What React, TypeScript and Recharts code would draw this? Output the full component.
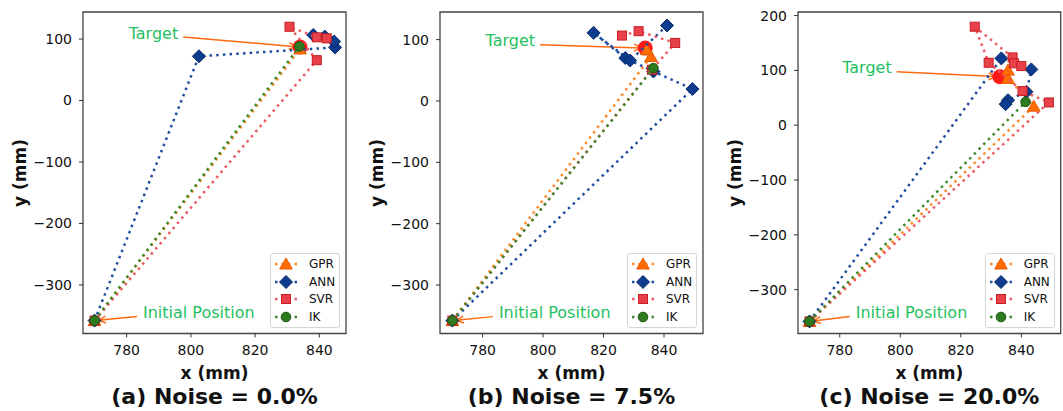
import React from 'react';
import { ScatterChart, Scatter, XAxis, YAxis, ReferenceArea, ReferenceLine, Legend } from 'recharts';

type Pt = { x: number; y: number };

const start: Pt = { x: 770, y: -358 };

const xTicks = [780, 800, 820, 840];
const yTicksAB = [-300, -200, -100, 0, 100];
const yTicksC = [-300, -200, -100, 0, 100, 200];

// (a) Noise = 0.0%
const targetA: Pt[] = [{ x: 834, y: 87 }];
const gprA: Pt[] = [start, { x: 834, y: 84 }];
const annA: Pt[] = [start, { x: 802.5, y: 72 }, { x: 844.9, y: 86.4 }, { x: 844.6, y: 96 }, { x: 841.7, y: 104 }, { x: 838.1, y: 106.6 }];
const svrA: Pt[] = [start, { x: 839.2, y: 65.6 }, { x: 830.7, y: 120 }, { x: 839.2, y: 102.8 }, { x: 842.3, y: 101.1 }];
const ikA: Pt[] = [start, { x: 833.8, y: 88 }];

// (b) Noise = 7.5%
const targetB: Pt[] = [{ x: 833.8, y: 86.3 }];
const gprB: Pt[] = [start, { x: 835.7, y: 72.5 }, { x: 834.3, y: 83.5 }];
const annB: Pt[] = [start, { x: 849.4, y: 19.4 }, { x: 836.5, y: 48 }, { x: 827.2, y: 70 }, { x: 816.7, y: 111 }, { x: 828.8, y: 66 }, { x: 841, y: 123 }];
const svrB: Pt[] = [start, { x: 836, y: 51 }, { x: 843.7, y: 94.6 }, { x: 831.6, y: 113.7 }, { x: 826.1, y: 106.6 }];
const ikB: Pt[] = [start, { x: 836.5, y: 53.5 }];

// (c) Noise = 20.0%
const targetC: Pt[] = [{ x: 832.9, y: 88.3 }];
const gprC: Pt[] = [start, { x: 844.1, y: 34.7 }, { x: 835.6, y: 85.4 }, { x: 835.6, y: 100.5 }];
const annC: Pt[] = [start, { x: 833.4, y: 121.9 }, { x: 843.3, y: 101.8 }, { x: 841.7, y: 60.9 }, { x: 835.6, y: 45.7 }, { x: 834.8, y: 38.4 }];
const svrC: Pt[] = [start, { x: 849.1, y: 41.5 }, { x: 840.4, y: 62.2 }, { x: 829.2, y: 113.9 }, { x: 824.6, y: 179.7 }, { x: 837.1, y: 123.7 }, { x: 837.6, y: 112.8 }, { x: 840, y: 107.9 }];
const ikC: Pt[] = [start, { x: 841.4, y: 42.6 }];

const FONT = '"DejaVu Sans", sans-serif';
const PLOT_TOP = 12;
const PLOT_BOTTOM = 333.5;
const AXIS_W = 75;
const H = 411;
const GREEN_TEXT = '#1fbf5f';
const ARROW = '#ff6a10';

const styles: Record<string, { fill: string; edge: string; line: string }> = {
  gpr: { fill: '#ff6d00', edge: '#e85a00', line: '#ff8a2a' },
  ann: { fill: '#0d3b8e', edge: '#082a6a', line: '#1f4f9e' },
  svr: { fill: '#e8414a', edge: '#c81d22', line: '#ec5a62' },
  ik: { fill: '#2e7a1e', edge: '#1d5a10', line: '#3f8a2c' },
  target: { fill: '#ff1a1a', edge: '#ff1a1a', line: 'none' },
};

function Marker({ kind, cx, cy }: { kind: string; cx: number; cy: number }) {
  const s = styles[kind];
  if (cx == null || cy == null) return null;
  if (kind === 'gpr')
    return <polygon points={`${cx},${cy - 6} ${cx - 6.3},${cy + 5} ${cx + 6.3},${cy + 5}`} fill={s.fill} stroke={s.edge} strokeWidth={1} />;
  if (kind === 'ann')
    return <polygon points={`${cx},${cy - 6.5} ${cx + 6.5},${cy} ${cx},${cy + 6.5} ${cx - 6.5},${cy}`} fill={s.fill} stroke={s.edge} strokeWidth={1} />;
  if (kind === 'svr')
    return <rect x={cx - 4.5} y={cy - 4.5} width={9} height={9} fill={s.fill} stroke={s.edge} strokeWidth={1} />;
  if (kind === 'ik') return <circle cx={cx} cy={cy} r={4.8} fill={s.fill} stroke={s.edge} strokeWidth={1} />;
  return <circle cx={cx} cy={cy} r={7.5} fill={s.fill} />;
}

const fmt = (v: number) => (v < 0 ? `\u2212${Math.abs(v)}` : `${v}`);

function Arrow(props: any, label: string, side: 'left' | 'right') {
  const { x1, y1, x2, y2 } = props;
  const dx = x2 - x1;
  const dy = y2 - y1;
  const len = Math.sqrt(dx * dx + dy * dy);
  const ux = dx / len;
  const uy = dy / len;
  const hx = x2 - ux * 4;
  const hy = y2 - uy * 4;
  const a = 0.45;
  const hl = 8;
  const p1x = hx - hl * (ux * Math.cos(a) - uy * Math.sin(a));
  const p1y = hy - hl * (uy * Math.cos(a) + ux * Math.sin(a));
  const p2x = hx - hl * (ux * Math.cos(a) + uy * Math.sin(a));
  const p2y = hy - hl * (uy * Math.cos(a) - ux * Math.sin(a));
  return (
    <g>
      <line x1={x1} y1={y1} x2={hx} y2={hy} stroke={ARROW} strokeWidth={1.5} />
      <polyline points={`${p1x},${p1y} ${hx},${hy} ${p2x},${p2y}`} fill="none" stroke={ARROW} strokeWidth={1.5} />
      <text
        x={side === 'left' ? x1 - 5 : x1 + 6}
        y={y1 - 4}
        textAnchor={side === 'left' ? 'end' : 'start'}
        dominantBaseline="central"
        fontSize={16}
        fontFamily={FONT}
        fill={GREEN_TEXT}
      >
        {label}
      </text>
    </g>
  );
}

function LegendBox() {
  const rows = [
    { key: 'gpr', name: 'GPR' },
    { key: 'ann', name: 'ANN' },
    { key: 'svr', name: 'SVR' },
    { key: 'ik', name: 'IK' },
  ];
  return (
    <div
      style={{
        width: 70,
        height: 75,
        boxSizing: 'border-box',
        border: '1px solid #d6d6d6',
        borderRadius: 3,
        background: 'rgba(255,255,255,0.85)',
        position: 'relative',
        fontFamily: FONT,
        fontSize: 12,
      }}
    >
      {rows.map((r, i) => (
        <div key={r.key} style={{ position: 'absolute', left: 0, top: 10 + i * 17.6 - 8, height: 16, width: 70 }}>
          <svg width={34} height={16} style={{ position: 'absolute', left: 0, top: 0 }}>
            <line x1={4} y1={8} x2={30} y2={8} stroke={styles[r.key].line} strokeWidth={2.5} strokeDasharray="2.5 4" />
            <Marker kind={r.key} cx={15} cy={8} />
          </svg>
          <span style={{ position: 'absolute', left: 38, top: 0, lineHeight: '16px', color: '#111' }}>{r.name}</span>
        </div>
      ))}
    </div>
  );
}

type Note = { label: string; from: Pt; to: Pt; side: 'left' | 'right' };

type Panel = {
  title: string;
  left: number;
  right: number;
  xDomain: [number, number];
  yDomain: [number, number];
  yTicks: number[];
  target: Pt[];
  gpr: Pt[];
  ann: Pt[];
  svr: Pt[];
  ik: Pt[];
  notes: Note[];
};

const panels: Panel[] = [
  {
    title: '(a) Noise = 0.0%',
    left: 83,
    right: 346,
    xDomain: [766.4, 848.3],
    yDomain: [-379, 144],
    yTicks: yTicksAB,
    target: targetA,
    gpr: gprA,
    ann: annA,
    svr: svrA,
    ik: ikA,
    notes: [
      { label: 'Target', from: { x: 797.6, y: 103.3 }, to: targetA[0], side: 'left' },
      { label: 'Initial Position', from: { x: 783.2, y: -351.5 }, to: start, side: 'right' },
    ],
  },
  {
    title: '(b) Noise = 7.5%',
    left: 440,
    right: 703,
    xDomain: [765.9, 852.9],
    yDomain: [-379, 145],
    yTicks: yTicksAB,
    target: targetB,
    gpr: gprB,
    ann: annB,
    svr: svrB,
    ik: ikB,
    notes: [
      { label: 'Target', from: { x: 799, y: 91.8 }, to: targetB[0], side: 'left' },
      { label: 'Initial Position', from: { x: 783.4, y: -351.5 }, to: start, side: 'right' },
    ],
  },
  {
    title: '(c) Noise = 20.0%',
    left: 798,
    right: 1060.7,
    xDomain: [766.2, 853],
    yDomain: [-380, 206.5],
    yTicks: yTicksC,
    target: targetC,
    gpr: gprC,
    ann: annC,
    svr: svrC,
    ik: ikC,
    notes: [
      { label: 'Target', from: { x: 798.8, y: 97.4 }, to: targetC[0], side: 'left' },
      { label: 'Initial Position', from: { x: 783.3, y: -349 }, to: start, side: 'right' },
    ],
  },
];

function dotted(color: string) {
  return { stroke: color, strokeWidth: 2.5, strokeDasharray: '2.5 4.2', fill: 'none' };
}

function PanelChart({ p }: { p: Panel }) {
  const plotW = p.right - p.left;
  const chartW = AXIS_W + plotW + 4;
  const chartLeft = p.left - AXIS_W;
  const center = (p.left + p.right) / 2;
  const series: { key: string; data: Pt[] }[] = [
    { key: 'gpr', data: p.gpr },
    { key: 'ann', data: p.ann },
    { key: 'svr', data: p.svr },
    { key: 'ik', data: p.ik },
  ];
  return (
    <>
      <div style={{ position: 'absolute', left: chartLeft, top: 0 }}>
        <ScatterChart width={chartW} height={H} margin={{ top: PLOT_TOP, right: 4, left: 0, bottom: 0 }}>
          <XAxis
            type="number"
            dataKey="x"
            domain={p.xDomain}
            ticks={xTicks}
            allowDataOverflow
            height={H - PLOT_BOTTOM}
            axisLine={false}
            tickSize={4}
            tickMargin={8}
            tickLine={{ stroke: '#333' }}
            tick={{ fontSize: 14, fill: '#111', fontFamily: FONT }}
          />
          <YAxis
            type="number"
            dataKey="y"
            domain={p.yDomain}
            ticks={p.yTicks}
            allowDataOverflow
            width={AXIS_W}
            axisLine={false}
            tickSize={4}
            tickMargin={7}
            tickFormatter={fmt}
            tickLine={{ stroke: '#333' }}
            tick={{ fontSize: 14, fill: '#111', fontFamily: FONT }}
          />
          <ReferenceArea
            x1={p.xDomain[0]}
            x2={p.xDomain[1]}
            y1={p.yDomain[0]}
            y2={p.yDomain[1]}
            fill="none"
            stroke="#444"
            strokeWidth={1.3}
            ifOverflow="visible"
          />
          <Scatter data={p.target} isAnimationActive={false} shape={(s: any) => <Marker kind="target" cx={s.cx} cy={s.cy} />} />
          {series.map((s) => (
            <Scatter
              key={s.key}
              data={s.data}
              isAnimationActive={false}
              line={dotted(styles[s.key].line)}
              lineType="joint"
              shape={(m: any) => <Marker kind={s.key} cx={m.cx} cy={m.cy} />}
            />
          ))}
          {p.notes.map((n) => (
            <ReferenceLine
              key={n.label}
              segment={[n.from, n.to]}
              ifOverflow="visible"
              shape={(props: any) => Arrow(props, n.label, n.side)}
            />
          ))}
          <Legend
            layout="vertical"
            align="center"
            verticalAlign="middle"
            wrapperStyle={{ left: p.right - 6 - 70 - chartLeft, top: 253.3, width: 70, height: 75 }}
            content={() => <LegendBox />}
          />
        </ScatterChart>
      </div>
      <div
        style={{
          position: 'absolute',
          left: p.left - 63 - 60,
          top: (PLOT_TOP + PLOT_BOTTOM) / 2 - 11,
          width: 120,
          height: 22,
          lineHeight: '22px',
          textAlign: 'center',
          transform: 'rotate(-90deg)',
          fontWeight: 'bold',
          fontSize: 17,
        }}
      >
        y (mm)
      </div>
      <div
        style={{
          position: 'absolute',
          left: center - 100,
          top: 362,
          width: 200,
          textAlign: 'center',
          fontWeight: 'bold',
          fontSize: 17,
          lineHeight: '22px',
        }}
      >
        x (mm)
      </div>
      <div
        style={{
          position: 'absolute',
          left: center - 150,
          top: 384,
          width: 300,
          textAlign: 'center',
          fontWeight: 'bold',
          fontSize: 22,
          lineHeight: '26px',
        }}
      >
        {p.title}
      </div>
    </>
  );
}

export default function App() {
  return (
    <div
      style={{
        position: 'absolute',
        left: 0,
        top: 0,
        width: 1063,
        height: H,
        background: '#fff',
        fontFamily: FONT,
        color: '#111',
        overflow: 'hidden',
      }}
    >
      {panels.map((p) => (
        <PanelChart key={p.title} p={p} />
      ))}
    </div>
  );
}
